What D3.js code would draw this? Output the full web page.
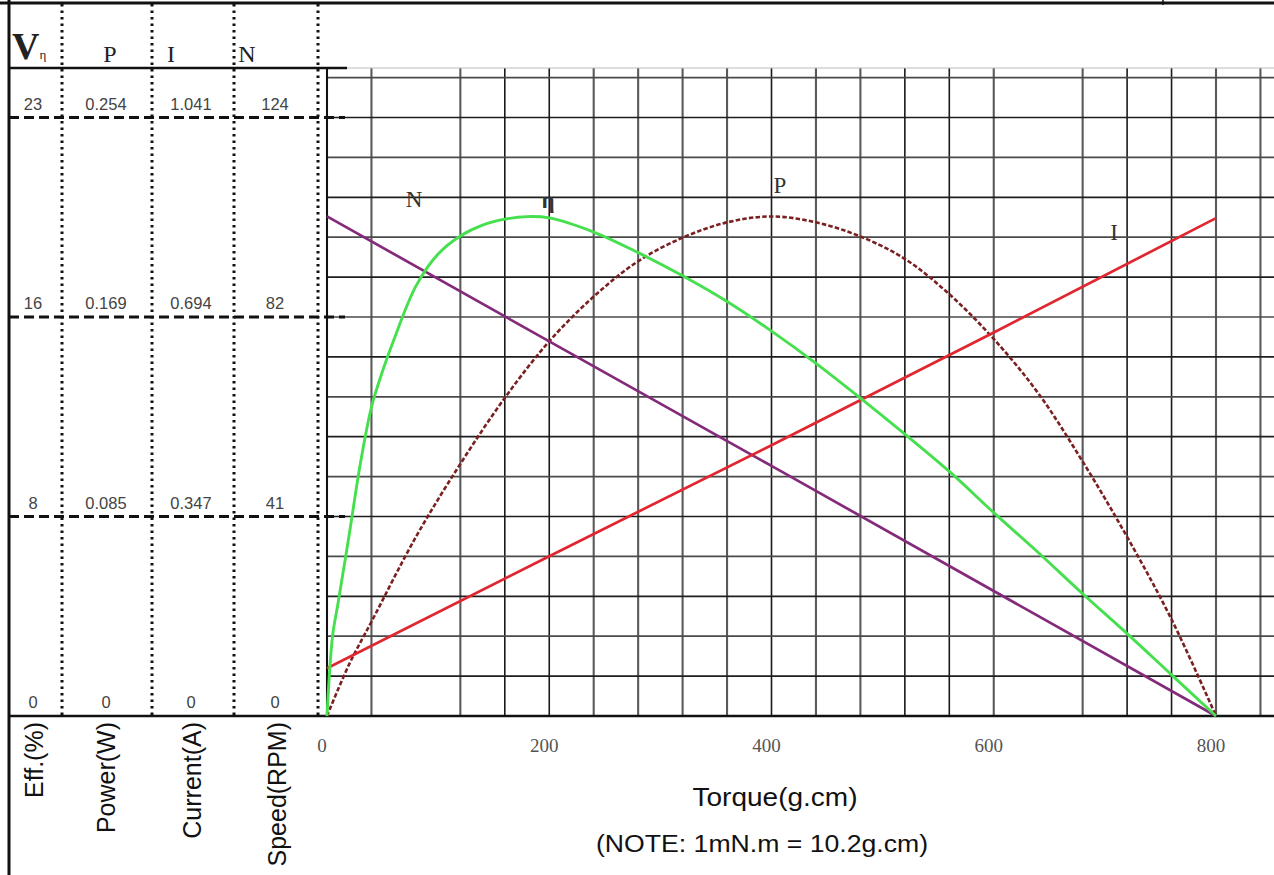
<!DOCTYPE html>
<html><head><meta charset="utf-8">
<script src="https://cdn.jsdelivr.net/npm/d3@7"></script>
<style>body{margin:0;background:#fff}svg{display:block}</style>
</head><body><svg id="c" width="1274" height="875"></svg>
<script>
// ---------- data ----------
const torqueTicks = [0, 200, 400, 600, 800];
const gridTorque = [0, 40, 120, 160, 200, 240, 280, 320, 360, 400, 440, 480, 520, 560, 600, 680, 720, 760, 800, 840];
const headerLabels = ["P", "I", "N"];
const effLabels = ["0", "8", "16", "23"];
const powerLabels = ["0", "0.085", "0.169", "0.254"];
const currentLabels = ["0", "0.347", "0.694", "1.041"];
const speedLabels = ["0", "41", "82", "124"];
const columnTitles = ["Eff.(%)", "Power(W)", "Current(A)", "Speed(RPM)"];

const torqueEff = [0, 5, 10, 20, 30, 40, 50, 60, 80, 100, 120, 140, 160, 180, 200, 240, 280, 320, 360, 400, 440, 480, 520, 560, 600, 640, 680, 720, 760, 800];
const efficiency = [0, 3.1, 4.4, 7.05, 9.8, 12.0, 13.4, 14.6, 16.7, 17.95, 18.65, 19.07, 19.3, 19.4, 19.35, 18.8, 18.0, 17.1, 16.1, 14.95, 13.7, 12.35, 10.95, 9.5, 7.9, 6.35, 4.75, 3.2, 1.6, 0];

const torqueP = [0, 20, 40, 80, 120, 160, 200, 240, 280, 320, 360, 400, 440, 480, 520, 560, 600, 640, 680, 720, 760, 800];
const power = [0, 0.022, 0.040, 0.076, 0.107, 0.135, 0.159, 0.178, 0.193, 0.203, 0.2095, 0.212, 0.2095, 0.2035, 0.194, 0.179, 0.160, 0.137, 0.108, 0.076, 0.041, 0];

const torqueI = [0, 200, 400, 600, 800];
const current = [0.083, 0.278, 0.471, 0.667, 0.866];

const torqueN = [0, 200, 400, 600, 800];
const speed = [103.1, 77.3, 51.6, 25.8, 0];

const effMax = 23.25, powerMax = 0.254, currentMax = 1.041, speedMax = 123.5;

// ---------- layout ----------
const svg = d3.select("#c");
const yBottom = 716, rowH = 39.9;
const x = d3.scaleLinear().domain([0, 800]).range([327, 1216]);
const rowY = d3.scaleLinear().domain([0, 16]).range([yBottom, yBottom - 16 * rowH]);
const yTop15 = rowY(15);
const effY = d3.scaleLinear().domain([0, effMax]).range([yBottom, yTop15]);
const powerY = d3.scaleLinear().domain([0, powerMax]).range([yBottom, yTop15]);
const currentY = d3.scaleLinear().domain([0, currentMax]).range([yBottom, yTop15]);
const speedY = d3.scaleLinear().domain([0, speedMax]).range([yBottom, yTop15]);

const SERIF = "'Liberation Serif','Times New Roman',serif";
const SANS = "'Liberation Sans',Arial,sans-serif";

// ---------- grid ----------
const darkV = new Set([160, 200, 400, 520, 560, 720, 760]);
svg.append("g").selectAll("line").data(gridTorque).join("line")
  .attr("x1", d => x(d)).attr("x2", d => x(d))
  .attr("y1", 68).attr("y2", yBottom)
  .attr("stroke", d => darkV.has(d) ? "#1a1a1a" : "#5a5a5a")
  .attr("stroke-width", d => darkV.has(d) ? 1.6 : 2.1);

svg.append("g").selectAll("line").data(d3.range(1, 17)).join("line")
  .attr("x1", 327).attr("x2", 1274)
  .attr("y1", d => rowY(d)).attr("y2", d => rowY(d))
  .attr("stroke", d => d % 2 ? "#1e1e1e" : "#4a4a4a").attr("stroke-width", 1.7);

// top faint line of plot
svg.append("line").attr("x1", 345).attr("x2", 1274).attr("y1", 68).attr("y2", 68)
  .attr("stroke", "#bbb").attr("stroke-width", 1);

// ---------- frame ----------
svg.append("line").attr("x1", 0).attr("x2", 1274).attr("y1", 3).attr("y2", 3)
  .attr("stroke", "#111").attr("stroke-width", 3);
svg.append("line").attr("x1", 1163).attr("x2", 1163).attr("y1", 0).attr("y2", 5)
  .attr("stroke", "#111").attr("stroke-width", 1.5);
svg.append("line").attr("x1", 9).attr("x2", 9).attr("y1", 0).attr("y2", 875)
  .attr("stroke", "#111").attr("stroke-width", 3);
svg.append("line").attr("x1", 9).attr("x2", 347).attr("y1", 68).attr("y2", 68)
  .attr("stroke", "#111").attr("stroke-width", 2.5);
svg.append("line").attr("x1", 9).attr("x2", 1274).attr("y1", yBottom).attr("y2", yBottom)
  .attr("stroke", "#111").attr("stroke-width", 2.5);
svg.append("line").attr("x1", 327).attr("x2", 327).attr("y1", 68).attr("y2", yBottom)
  .attr("stroke", "#111").attr("stroke-width", 2);

// dotted column separators
const sepX = [62, 152, 234, 318];
svg.append("g").selectAll("line").data(sepX).join("line")
  .attr("x1", d => d).attr("x2", d => d).attr("y1", 4).attr("y2", yBottom)
  .attr("stroke", "#111").attr("stroke-width", 3).attr("stroke-dasharray", "2.5,4");

// dashed level lines
svg.append("g").selectAll("line").data([5, 10, 15]).join("line")
  .attr("x1", 9).attr("x2", 345).attr("y1", d => rowY(d)).attr("y2", d => rowY(d))
  .attr("stroke", "#111").attr("stroke-width", 2.8).attr("stroke-dasharray", "10,5");

// ---------- header ----------
const hv = svg.append("text").attr("x", 12).attr("y", 59)
  .attr("font-family", SERIF).attr("font-weight", "bold").attr("font-size", 38).attr("fill", "#222");
hv.append("tspan").text("V");
hv.append("tspan").attr("font-size", 13).attr("font-weight", "normal").text("η");
const headerX = [110, 171, 247];
svg.append("g").selectAll("text").data(headerLabels).join("text")
  .attr("x", (d, i) => headerX[i]).attr("y", 62).attr("text-anchor", "middle")
  .attr("font-family", SERIF).attr("font-size", 24).attr("fill", "#222").text(d => d);

// ---------- table values ----------
const colCenters = [33, 106, 191, 275];
const tableCols = [effLabels, powerLabels, currentLabels, speedLabels];
const rowsAt = [0, 5, 10, 15];
tableCols.forEach((labels, ci) => {
  svg.append("g").selectAll("text").data(labels).join("text")
    .attr("x", colCenters[ci]).attr("y", (d, i) => rowY(rowsAt[i]) - 8)
    .attr("text-anchor", "middle").attr("font-family", SANS).attr("font-size", 16.5)
    .attr("fill", "#444").text(d => d);
});

// rotated column titles
const titleX = [43, 115, 201, 286];
svg.append("g").selectAll("text").data(columnTitles).join("text")
  .attr("transform", (d, i) => `translate(${titleX[i]},722) rotate(-90)`)
  .attr("text-anchor", "end").attr("font-family", SANS).attr("font-size", 25)
  .attr("fill", "#111").text(d => d);

// ---------- x axis labels ----------
svg.append("g").selectAll("text").data(torqueTicks).join("text")
  .attr("x", d => x(d) - 5).attr("y", 752).attr("text-anchor", "middle")
  .attr("font-family", SERIF).attr("font-size", 19).attr("fill", "#555").text(d => d);
svg.append("text").attr("x", 775).attr("y", 806).attr("text-anchor", "middle")
  .attr("font-family", SANS).attr("font-size", 25).attr("fill", "#111")
  .attr("textLength", 165).attr("lengthAdjust", "spacingAndGlyphs").text("Torque(g.cm)");
svg.append("text").attr("x", 762).attr("y", 852).attr("text-anchor", "middle")
  .attr("font-family", SANS).attr("font-size", 23).attr("fill", "#111")
  .attr("textLength", 332).attr("lengthAdjust", "spacingAndGlyphs").text("(NOTE: 1mN.m = 10.2g.cm)");

// ---------- curves ----------
const mk = (tx, vals, ys) => tx.map((t, i) => [x(t), ys(vals[i])]);
const smooth = d3.line().curve(d3.curveCatmullRom.alpha(0.5));
const lineStraight = d3.line();
const curves = svg.append("g").attr("fill", "none").attr("stroke-linejoin", "round");

curves.append("path").attr("d", smooth(mk(torqueP, power, powerY)))
  .attr("stroke", "#7a2020").attr("stroke-width", 2.6).attr("stroke-dasharray", "4.5,2.2");
curves.append("path").attr("d", lineStraight(mk(torqueN, speed, speedY)))
  .attr("stroke", "#842a7a").attr("stroke-width", 2.7);
curves.append("path").attr("d", lineStraight(mk(torqueI, current, currentY)))
  .attr("stroke", "#e0262f").attr("stroke-width", 2.7);
curves.append("path").attr("d", smooth(mk(torqueEff, efficiency, effY)))
  .attr("stroke", "#46e04f").attr("stroke-width", 2.9);

// curve labels
const curveLabels = [
  {t: "N", x: 414, y: 207, b: false},
  {t: "η", x: 548, y: 208, b: true},
  {t: "P", x: 780, y: 193, b: false},
  {t: "I", x: 1114, y: 240, b: false}
];
svg.append("g").selectAll("text").data(curveLabels).join("text")
  .attr("x", d => d.x).attr("y", d => d.y).attr("text-anchor", "middle")
  .attr("font-family", SERIF).attr("font-size", 23)
  .attr("font-weight", d => d.b ? "bold" : "normal")
  .attr("fill", "#333").text(d => d.t);
</script></body></html>
